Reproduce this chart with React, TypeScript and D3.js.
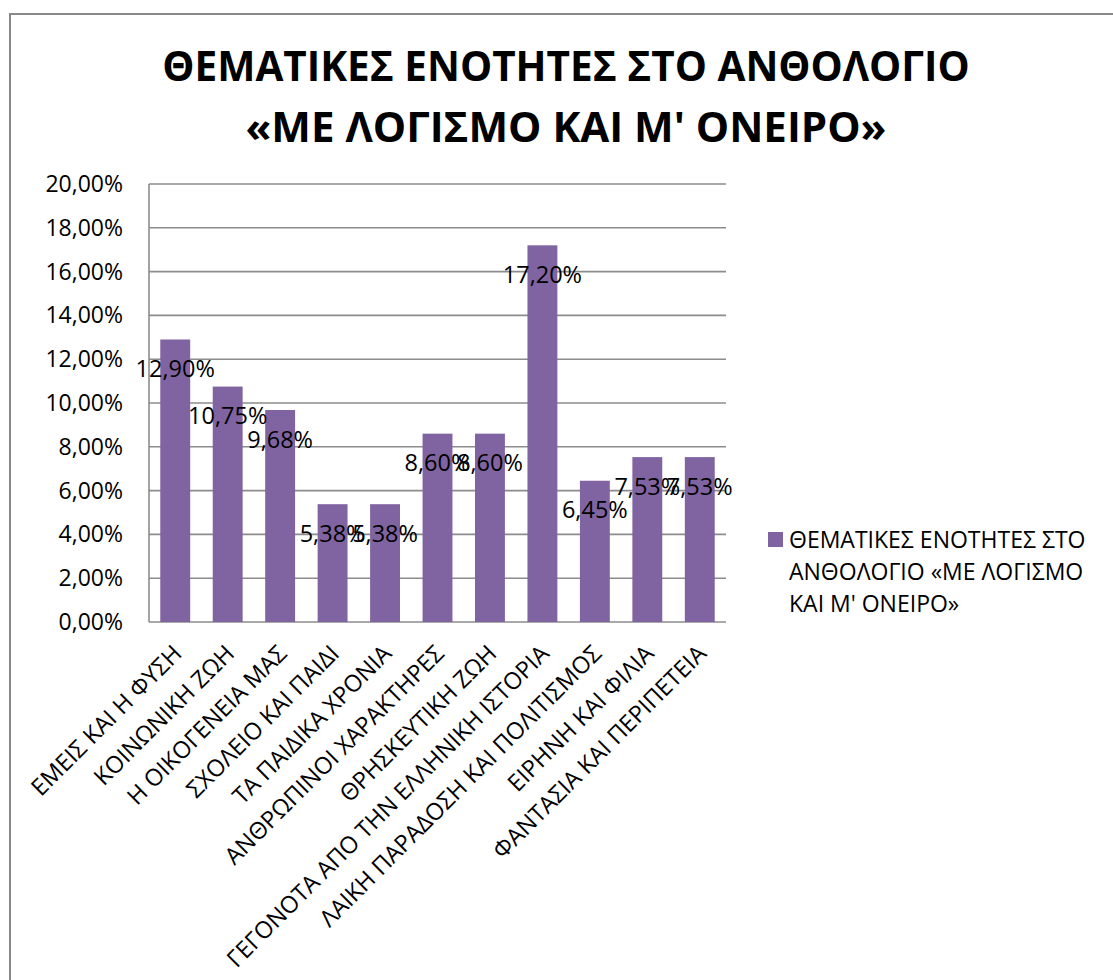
import React, { useEffect, useRef } from 'react';
import * as d3 from 'd3';

const categories = [
  'ΕΜΕΙΣ ΚΑΙ Η ΦΥΣΗ',
  'ΚΟΙΝΩΝΙΚΗ ΖΩΗ',
  'Η ΟΙΚΟΓΕΝΕΙΑ ΜΑΣ',
  'ΣΧΟΛΕΙΟ ΚΑΙ ΠΑΙΔΙ',
  'ΤΑ ΠΑΙΔΙΚΑ ΧΡΟΝΙΑ',
  'ΑΝΘΡΩΠΙΝΟΙ ΧΑΡΑΚΤΗΡΕΣ',
  'ΘΡΗΣΚΕΥΤΙΚΗ ΖΩΗ',
  'ΓΕΓΟΝΟΤΑ ΑΠΟ ΤΗΝ ΕΛΛΗΝΙΚΗ ΙΣΤΟΡΙΑ',
  'ΛΑΙΚΗ ΠΑΡΑΔΟΣΗ ΚΑΙ ΠΟΛΙΤΙΣΜΟΣ',
  'ΕΙΡΗΝΗ ΚΑΙ ΦΙΛΙΑ',
  'ΦΑΝΤΑΣΙΑ ΚΑΙ ΠΕΡΙΠΕΤΕΙΑ',
];

const values = [0.129, 0.1075, 0.0968, 0.0538, 0.0538, 0.086, 0.086, 0.172, 0.0645, 0.0753, 0.0753];

const yTicks = [0, 0.02, 0.04, 0.06, 0.08, 0.1, 0.12, 0.14, 0.16, 0.18, 0.2];

const titleLines = ['ΘΕΜΑΤΙΚΕΣ ΕΝΟΤΗΤΕΣ ΣΤΟ ΑΝΘΟΛΟΓΙΟ', '«ΜΕ ΛΟΓΙΣΜΟ ΚΑΙ Μ\' ΟΝΕΙΡΟ»'];
const legendLines = ['ΘΕΜΑΤΙΚΕΣ ΕΝΟΤΗΤΕΣ ΣΤΟ', 'ΑΝΘΟΛΟΓΙΟ «ΜΕ ΛΟΓΙΣΜΟ', 'ΚΑΙ Μ\' ΟΝΕΙΡΟ»'];

const W = 1113;
const H = 980;
const FONT = '"Open Sans", sans-serif';
const BAR = '#8064a2';
const GRID = '#8c8c8c';

const fmt = (v: number) => (v * 100).toFixed(2).replace('.', ',') + '%';

export default function App() {
  const svgRef = useRef<SVGSVGElement>(null);

  useEffect(() => {
    if (!svgRef.current) return;
    const svg = d3.select(svgRef.current);
    svg.selectAll('*').remove();

    const plot = { left: 149, right: 726, top: 184, bottom: 622 };

    const x = d3.scaleBand()
      .domain(categories)
      .range([plot.left, plot.right])
      .paddingInner(0.43)
      .paddingOuter(0.215);

    const y = d3.scaleLinear().domain([0, 0.2]).range([plot.bottom, plot.top]);

    // outer chart border
    svg.append('rect')
      .attr('x', 10).attr('y', 14)
      .attr('width', W + 20).attr('height', H + 20)
      .attr('fill', '#fff')
      .attr('stroke', '#898989')
      .attr('stroke-width', 2);

    // title
    svg.append('g')
      .selectAll('text')
      .data(titleLines)
      .enter()
      .append('text')
      .attr('x', 566)
      .attr('y', (_, i) => 81 + i * 61)
      .attr('text-anchor', 'middle')
      .attr('font-family', FONT)
      .attr('font-weight', 700)
      .attr('font-size', (_, i) => (i === 0 ? 40.5 : 42))
      .attr('fill', '#000')
      .text(d => d);

    // gridlines
    svg.append('g')
      .selectAll('line')
      .data(yTicks)
      .enter()
      .append('line')
      .attr('x1', plot.left).attr('x2', plot.right)
      .attr('y1', d => y(d)).attr('y2', d => y(d))
      .attr('stroke', GRID)
      .attr('stroke-width', 1.6);

    // vertical axis line
    svg.append('line')
      .attr('x1', plot.left).attr('x2', plot.left)
      .attr('y1', plot.top).attr('y2', plot.bottom)
      .attr('stroke', GRID)
      .attr('stroke-width', 1.6);

    // y tick labels
    svg.append('g')
      .selectAll('text')
      .data(yTicks)
      .enter()
      .append('text')
      .attr('x', 123)
      .attr('y', d => y(d))
      .attr('dy', '0.35em')
      .attr('text-anchor', 'end')
      .attr('font-family', FONT)
      .attr('font-size', 23)
      .attr('fill', '#000')
      .text(d => fmt(d));

    // bars
    svg.append('g')
      .selectAll('rect')
      .data(values)
      .enter()
      .append('rect')
      .attr('x', (_, i) => x(categories[i])!)
      .attr('y', d => y(d))
      .attr('width', x.bandwidth())
      .attr('height', d => plot.bottom - y(d))
      .attr('fill', BAR);

    // data labels
    svg.append('g')
      .selectAll('text')
      .data(values)
      .enter()
      .append('text')
      .attr('x', (_, i) => x(categories[i])! + x.bandwidth() / 2)
      .attr('y', d => y(d) + 29.5)
      .attr('dy', '0.35em')
      .attr('text-anchor', 'middle')
      .attr('font-family', FONT)
      .attr('font-size', 23.5)
      .attr('fill', '#000')
      .text(d => fmt(d));

    // x labels, rotated
    svg.append('g')
      .selectAll('text')
      .data(categories)
      .enter()
      .append('text')
      .attr('transform', d => {
        const cx = x(d)! + x.bandwidth() / 2 + 8;
        return `translate(${cx},${plot.bottom + 33}) rotate(-45)`;
      })
      .attr('text-anchor', 'end')
      .attr('font-family', FONT)
      .attr('font-size', 23.5)
      .attr('fill', '#000')
      .text(d => d);

    // legend
    const legend = svg.append('g');
    legend.append('rect')
      .attr('x', 768).attr('y', 532)
      .attr('width', 15).attr('height', 15)
      .attr('fill', BAR);
    legend.selectAll('text')
      .data(legendLines)
      .enter()
      .append('text')
      .attr('x', 789)
      .attr('y', (_, i) => 548 + i * 32)
      .attr('font-family', FONT)
      .attr('font-size', 23)
      .attr('fill', '#000')
      .text(d => d);
  }, []);

  return (
    <svg
      ref={svgRef}
      width={W}
      height={H}
      style={{ position: 'absolute', left: 0, top: 0, display: 'block', background: '#fff' }}
    />
  );
}
